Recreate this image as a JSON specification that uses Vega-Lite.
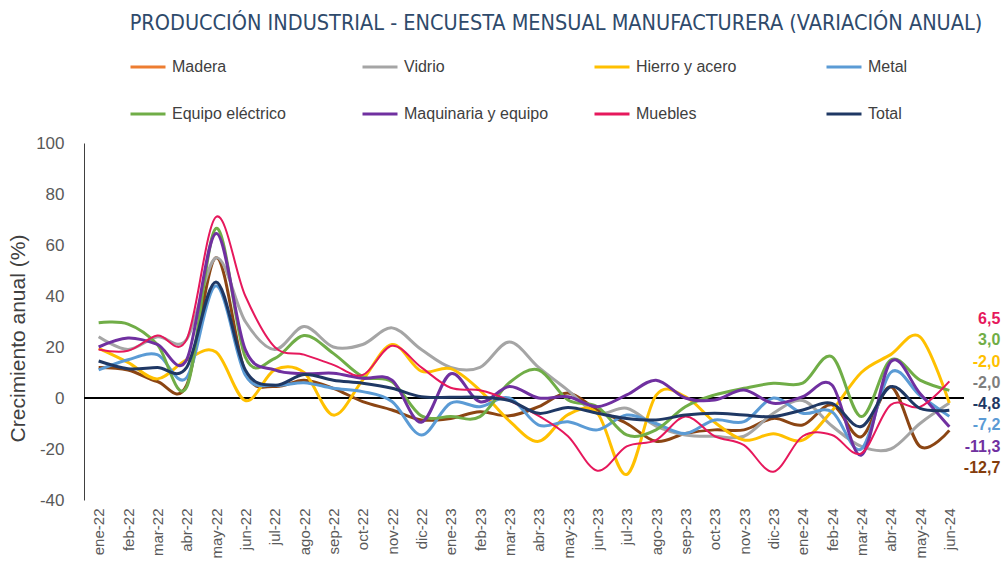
{
  "$schema": "https://vega.github.io/schema/vega-lite/v6.json",
  "autosize": {"type": "none"},
  "width": 880,
  "height": 357,
  "padding": {"left": 84, "top": 143, "right": 40, "bottom": 85},
  "config": {
    "locale": {"number": {"decimal": ",", "thousands": ".", "grouping": [3], "currency": ["", " €"], "minus": "-"}},
    "view": {"stroke": null},
    "font": "Liberation Sans"
  },
  "title": {
    "text": "PRODUCCIÓN INDUSTRIAL - ENCUESTA MENSUAL MANUFACTURERA (VARIACIÓN ANUAL)",
    "font": "Liberation Sans Narrow, DejaVu Sans Condensed, sans-serif",
    "fontSize": 21.5,
    "fontWeight": "normal",
    "color": "#2E4A6B",
    "anchor": "middle",
    "dx": 32,
    "offset": 14
  },
  "datasets": {
    "d": [
      {"mes":"ene-22","serie":"Madera","valor":12},{"mes":"feb-22","serie":"Madera","valor":11},{"mes":"mar-22","serie":"Madera","valor":6.5},{"mes":"abr-22","serie":"Madera","valor":5},{"mes":"may-22","serie":"Madera","valor":55},{"mes":"jun-22","serie":"Madera","valor":10},{"mes":"jul-22","serie":"Madera","valor":4.5},{"mes":"ago-22","serie":"Madera","valor":7},{"mes":"sep-22","serie":"Madera","valor":3.8},{"mes":"oct-22","serie":"Madera","valor":-1.4},{"mes":"nov-22","serie":"Madera","valor":-4.7},{"mes":"dic-22","serie":"Madera","valor":-8.6},{"mes":"ene-23","serie":"Madera","valor":-8},{"mes":"feb-23","serie":"Madera","valor":-5.4},{"mes":"mar-23","serie":"Madera","valor":-7},{"mes":"abr-23","serie":"Madera","valor":-3.4},{"mes":"may-23","serie":"Madera","valor":2},{"mes":"jun-23","serie":"Madera","valor":-4.7},{"mes":"jul-23","serie":"Madera","valor":-10},{"mes":"ago-23","serie":"Madera","valor":-17},{"mes":"sep-23","serie":"Madera","valor":-13.9},{"mes":"oct-23","serie":"Madera","valor":-12.5},{"mes":"nov-23","serie":"Madera","valor":-12.5},{"mes":"dic-23","serie":"Madera","valor":-8},{"mes":"ene-24","serie":"Madera","valor":-10.6},{"mes":"feb-24","serie":"Madera","valor":-2.7},{"mes":"mar-24","serie":"Madera","valor":-15.2},{"mes":"abr-24","serie":"Madera","valor":4.4},{"mes":"may-24","serie":"Madera","valor":-19},{"mes":"jun-24","serie":"Madera","valor":-12.7},
      {"mes":"ene-22","serie":"Vidrio","valor":24},{"mes":"feb-22","serie":"Vidrio","valor":19},{"mes":"mar-22","serie":"Vidrio","valor":24},{"mes":"abr-22","serie":"Vidrio","valor":23},{"mes":"may-22","serie":"Vidrio","valor":55},{"mes":"jun-22","serie":"Vidrio","valor":30},{"mes":"jul-22","serie":"Vidrio","valor":19},{"mes":"ago-22","serie":"Vidrio","valor":28},{"mes":"sep-22","serie":"Vidrio","valor":20},{"mes":"oct-22","serie":"Vidrio","valor":21},{"mes":"nov-22","serie":"Vidrio","valor":27.5},{"mes":"dic-22","serie":"Vidrio","valor":19},{"mes":"ene-23","serie":"Vidrio","valor":12},{"mes":"feb-23","serie":"Vidrio","valor":12},{"mes":"mar-23","serie":"Vidrio","valor":22},{"mes":"abr-23","serie":"Vidrio","valor":12},{"mes":"may-23","serie":"Vidrio","valor":3},{"mes":"jun-23","serie":"Vidrio","valor":-6},{"mes":"jul-23","serie":"Vidrio","valor":-4},{"mes":"ago-23","serie":"Vidrio","valor":-11},{"mes":"sep-23","serie":"Vidrio","valor":-14.5},{"mes":"oct-23","serie":"Vidrio","valor":-15},{"mes":"nov-23","serie":"Vidrio","valor":-15},{"mes":"dic-23","serie":"Vidrio","valor":-6},{"mes":"ene-24","serie":"Vidrio","valor":-1},{"mes":"feb-24","serie":"Vidrio","valor":-11},{"mes":"mar-24","serie":"Vidrio","valor":-19},{"mes":"abr-24","serie":"Vidrio","valor":-20},{"mes":"may-24","serie":"Vidrio","valor":-10},{"mes":"jun-24","serie":"Vidrio","valor":-2.0},
      {"mes":"ene-22","serie":"Hierro y acero","valor":19.5},{"mes":"feb-22","serie":"Hierro y acero","valor":14},{"mes":"mar-22","serie":"Hierro y acero","valor":7.5},{"mes":"abr-22","serie":"Hierro y acero","valor":15},{"mes":"may-22","serie":"Hierro y acero","valor":18},{"mes":"jun-22","serie":"Hierro y acero","valor":-1},{"mes":"jul-22","serie":"Hierro y acero","valor":11},{"mes":"ago-22","serie":"Hierro y acero","valor":10},{"mes":"sep-22","serie":"Hierro y acero","valor":-6.7},{"mes":"oct-22","serie":"Hierro y acero","valor":7},{"mes":"nov-22","serie":"Hierro y acero","valor":21},{"mes":"dic-22","serie":"Hierro y acero","valor":10.5},{"mes":"ene-23","serie":"Hierro y acero","valor":11.5},{"mes":"feb-23","serie":"Hierro y acero","valor":3},{"mes":"mar-23","serie":"Hierro y acero","valor":-9},{"mes":"abr-23","serie":"Hierro y acero","valor":-17},{"mes":"may-23","serie":"Hierro y acero","valor":-6.5},{"mes":"jun-23","serie":"Hierro y acero","valor":-6},{"mes":"jul-23","serie":"Hierro y acero","valor":-30},{"mes":"ago-23","serie":"Hierro y acero","valor":1},{"mes":"sep-23","serie":"Hierro y acero","valor":0.5},{"mes":"oct-23","serie":"Hierro y acero","valor":-9.5},{"mes":"nov-23","serie":"Hierro y acero","valor":-16.5},{"mes":"dic-23","serie":"Hierro y acero","valor":-14},{"mes":"ene-24","serie":"Hierro y acero","valor":-16.5},{"mes":"feb-24","serie":"Hierro y acero","valor":-5},{"mes":"mar-24","serie":"Hierro y acero","valor":10},{"mes":"abr-24","serie":"Hierro y acero","valor":17},{"mes":"may-24","serie":"Hierro y acero","valor":24},{"mes":"jun-24","serie":"Hierro y acero","valor":-2.0},
      {"mes":"ene-22","serie":"Metal","valor":11},{"mes":"feb-22","serie":"Metal","valor":15},{"mes":"mar-22","serie":"Metal","valor":17},{"mes":"abr-22","serie":"Metal","valor":8},{"mes":"may-22","serie":"Metal","valor":44},{"mes":"jun-22","serie":"Metal","valor":9},{"mes":"jul-22","serie":"Metal","valor":5},{"mes":"ago-22","serie":"Metal","valor":6},{"mes":"sep-22","serie":"Metal","valor":3.8},{"mes":"oct-22","serie":"Metal","valor":2.5},{"mes":"nov-22","serie":"Metal","valor":-1.4},{"mes":"dic-22","serie":"Metal","valor":-14.5},{"mes":"ene-23","serie":"Metal","valor":-2},{"mes":"feb-23","serie":"Metal","valor":-3.4},{"mes":"mar-23","serie":"Metal","valor":0},{"mes":"abr-23","serie":"Metal","valor":-10.6},{"mes":"may-23","serie":"Metal","valor":-9.3},{"mes":"jun-23","serie":"Metal","valor":-12.5},{"mes":"jul-23","serie":"Metal","valor":-6.7},{"mes":"ago-23","serie":"Metal","valor":-10},{"mes":"sep-23","serie":"Metal","valor":-13.9},{"mes":"oct-23","serie":"Metal","valor":-8.6},{"mes":"nov-23","serie":"Metal","valor":-9.3},{"mes":"dic-23","serie":"Metal","valor":0},{"mes":"ene-24","serie":"Metal","valor":-6},{"mes":"feb-24","serie":"Metal","valor":-5.4},{"mes":"mar-24","serie":"Metal","valor":-20},{"mes":"abr-24","serie":"Metal","valor":10},{"mes":"may-24","serie":"Metal","valor":1},{"mes":"jun-24","serie":"Metal","valor":-7.2},
      {"mes":"ene-22","serie":"Equipo eléctrico","valor":29.5},{"mes":"feb-22","serie":"Equipo eléctrico","valor":29},{"mes":"mar-22","serie":"Equipo eléctrico","valor":21},{"mes":"abr-22","serie":"Equipo eléctrico","valor":4.3},{"mes":"may-22","serie":"Equipo eléctrico","valor":66.5},{"mes":"jun-22","serie":"Equipo eléctrico","valor":16},{"mes":"jul-22","serie":"Equipo eléctrico","valor":15.5},{"mes":"ago-22","serie":"Equipo eléctrico","valor":24.5},{"mes":"sep-22","serie":"Equipo eléctrico","valor":17.5},{"mes":"oct-22","serie":"Equipo eléctrico","valor":8.4},{"mes":"nov-22","serie":"Equipo eléctrico","valor":6.4},{"mes":"dic-22","serie":"Equipo eléctrico","valor":-7},{"mes":"ene-23","serie":"Equipo eléctrico","valor":-7.3},{"mes":"feb-23","serie":"Equipo eléctrico","valor":-7.3},{"mes":"mar-23","serie":"Equipo eléctrico","valor":6},{"mes":"abr-23","serie":"Equipo eléctrico","valor":11},{"mes":"may-23","serie":"Equipo eléctrico","valor":-0.8},{"mes":"jun-23","serie":"Equipo eléctrico","valor":-3.4},{"mes":"jul-23","serie":"Equipo eléctrico","valor":-14.5},{"mes":"ago-23","serie":"Equipo eléctrico","valor":-12.5},{"mes":"sep-23","serie":"Equipo eléctrico","valor":-3.4},{"mes":"oct-23","serie":"Equipo eléctrico","valor":1.2},{"mes":"nov-23","serie":"Equipo eléctrico","valor":3.8},{"mes":"dic-23","serie":"Equipo eléctrico","valor":5.8},{"mes":"ene-24","serie":"Equipo eléctrico","valor":5.8},{"mes":"feb-24","serie":"Equipo eléctrico","valor":16.2},{"mes":"mar-24","serie":"Equipo eléctrico","valor":-7.3},{"mes":"abr-24","serie":"Equipo eléctrico","valor":14.9},{"mes":"may-24","serie":"Equipo eléctrico","valor":7},{"mes":"jun-24","serie":"Equipo eléctrico","valor":3.0},
      {"mes":"ene-22","serie":"Maquinaria y equipo","valor":20},{"mes":"feb-22","serie":"Maquinaria y equipo","valor":23.5},{"mes":"mar-22","serie":"Maquinaria y equipo","valor":21},{"mes":"abr-22","serie":"Maquinaria y equipo","valor":15},{"mes":"may-22","serie":"Maquinaria y equipo","valor":64.5},{"mes":"jun-22","serie":"Maquinaria y equipo","valor":19},{"mes":"jul-22","serie":"Maquinaria y equipo","valor":11},{"mes":"ago-22","serie":"Maquinaria y equipo","valor":9.5},{"mes":"sep-22","serie":"Maquinaria y equipo","valor":9.7},{"mes":"oct-22","serie":"Maquinaria y equipo","valor":7.7},{"mes":"nov-22","serie":"Maquinaria y equipo","valor":7},{"mes":"dic-22","serie":"Maquinaria y equipo","valor":-9.5},{"mes":"ene-23","serie":"Maquinaria y equipo","valor":9.5},{"mes":"feb-23","serie":"Maquinaria y equipo","valor":-1.5},{"mes":"mar-23","serie":"Maquinaria y equipo","valor":4.5},{"mes":"abr-23","serie":"Maquinaria y equipo","valor":0},{"mes":"may-23","serie":"Maquinaria y equipo","valor":0.5},{"mes":"jun-23","serie":"Maquinaria y equipo","valor":-3.4},{"mes":"jul-23","serie":"Maquinaria y equipo","valor":1.2},{"mes":"ago-23","serie":"Maquinaria y equipo","valor":7},{"mes":"sep-23","serie":"Maquinaria y equipo","valor":0},{"mes":"oct-23","serie":"Maquinaria y equipo","valor":-0.8},{"mes":"nov-23","serie":"Maquinaria y equipo","valor":3.1},{"mes":"dic-23","serie":"Maquinaria y equipo","valor":-2.1},{"mes":"ene-24","serie":"Maquinaria y equipo","valor":0.5},{"mes":"feb-24","serie":"Maquinaria y equipo","valor":5.1},{"mes":"mar-24","serie":"Maquinaria y equipo","valor":-22.4},{"mes":"abr-24","serie":"Maquinaria y equipo","valor":14.2},{"mes":"may-24","serie":"Maquinaria y equipo","valor":1.8},{"mes":"jun-24","serie":"Maquinaria y equipo","valor":-11.3},
      {"mes":"ene-22","serie":"Muebles","valor":19},{"mes":"feb-22","serie":"Muebles","valor":18.5},{"mes":"mar-22","serie":"Muebles","valor":24.5},{"mes":"abr-22","serie":"Muebles","valor":23},{"mes":"may-22","serie":"Muebles","valor":71},{"mes":"jun-22","serie":"Muebles","valor":40},{"mes":"jul-22","serie":"Muebles","valor":20},{"mes":"ago-22","serie":"Muebles","valor":17},{"mes":"sep-22","serie":"Muebles","valor":13},{"mes":"oct-22","serie":"Muebles","valor":9},{"mes":"nov-22","serie":"Muebles","valor":20.5},{"mes":"dic-22","serie":"Muebles","valor":12},{"mes":"ene-23","serie":"Muebles","valor":4},{"mes":"feb-23","serie":"Muebles","valor":3},{"mes":"mar-23","serie":"Muebles","valor":-1},{"mes":"abr-23","serie":"Muebles","valor":-7},{"mes":"may-23","serie":"Muebles","valor":-15},{"mes":"jun-23","serie":"Muebles","valor":-28.5},{"mes":"jul-23","serie":"Muebles","valor":-19},{"mes":"ago-23","serie":"Muebles","valor":-16.5},{"mes":"sep-23","serie":"Muebles","valor":-7.3},{"mes":"oct-23","serie":"Muebles","valor":-15},{"mes":"nov-23","serie":"Muebles","valor":-18.5},{"mes":"dic-23","serie":"Muebles","valor":-28.9},{"mes":"ene-24","serie":"Muebles","valor":-15},{"mes":"feb-24","serie":"Muebles","valor":-14.5},{"mes":"mar-24","serie":"Muebles","valor":-21.7},{"mes":"abr-24","serie":"Muebles","valor":-2.7},{"mes":"may-24","serie":"Muebles","valor":-3.5},{"mes":"jun-24","serie":"Muebles","valor":6.5},
      {"mes":"ene-22","serie":"Total","valor":14.5},{"mes":"feb-22","serie":"Total","valor":11.5},{"mes":"mar-22","serie":"Total","valor":12},{"mes":"abr-22","serie":"Total","valor":12},{"mes":"may-22","serie":"Total","valor":45.5},{"mes":"jun-22","serie":"Total","valor":11},{"mes":"jul-22","serie":"Total","valor":5},{"mes":"ago-22","serie":"Total","valor":9.2},{"mes":"sep-22","serie":"Total","valor":7},{"mes":"oct-22","serie":"Total","valor":5.8},{"mes":"nov-22","serie":"Total","valor":3.8},{"mes":"dic-22","serie":"Total","valor":0.5},{"mes":"ene-23","serie":"Total","valor":0.3},{"mes":"feb-23","serie":"Total","valor":0.3},{"mes":"mar-23","serie":"Total","valor":-1},{"mes":"abr-23","serie":"Total","valor":-6},{"mes":"may-23","serie":"Total","valor":-3.7},{"mes":"jun-23","serie":"Total","valor":-6},{"mes":"jul-23","serie":"Total","valor":-8},{"mes":"ago-23","serie":"Total","valor":-8.6},{"mes":"sep-23","serie":"Total","valor":-6.7},{"mes":"oct-23","serie":"Total","valor":-6},{"mes":"nov-23","serie":"Total","valor":-6.7},{"mes":"dic-23","serie":"Total","valor":-7.3},{"mes":"ene-24","serie":"Total","valor":-4.7},{"mes":"feb-24","serie":"Total","valor":-2.1},{"mes":"mar-24","serie":"Total","valor":-11.2},{"mes":"abr-24","serie":"Total","valor":4.4},{"mes":"may-24","serie":"Total","valor":-4.1},{"mes":"jun-24","serie":"Total","valor":-4.8}
    ]
  },
  "data": {"name": "d"},
  "layer": [
    {
      "layer": [
        {
          "mark": {"type": "rule", "color": "#000000", "strokeWidth": 1},
          "encoding": {"y": {"datum": 0, "type": "quantitative"}}
        },
        {
          "mark": {"type": "line", "interpolate": "cardinal", "tension": 0},
          "encoding": {
            "x": {
              "field": "mes", "type": "ordinal", "sort": null,
              "scale": {"type": "point", "padding": 0.5},
              "axis": {"title": null, "labelAngle": -90, "labelFontSize": 15, "labelColor": "#595959", "ticks": false, "domain": false, "labelPadding": 8}
            },
            "y": {
              "field": "valor", "type": "quantitative",
              "scale": {"domain": [-40, 100], "nice": false},
              "axis": {"values": [-40, -20, 0, 20, 40, 60, 80, 100], "grid": false, "ticks": false, "tickSize": 0, "domain": true, "domainColor": "#404040", "labelFontSize": 17, "labelColor": "#595959", "labelPadding": 20, "title": "Crecimiento anual (%)", "titleFontSize": 21, "titleColor": "#404040", "titleFontWeight": "normal", "titleX": -66, "titleY": 195, "titleAlign": "center", "titleBaseline": "middle", "titleAngle": 270}
            },
            "color": {
              "condition": {"test": "datum.serie === 'Madera'", "value": "#8B4513"},
              "field": "serie", "type": "nominal",
              "scale": {
                "domain": ["Madera", "Vidrio", "Hierro y acero", "Metal", "Equipo eléctrico", "Maquinaria y equipo", "Muebles", "Total"],
                "range": ["#ED7D31", "#A5A5A5", "#FFC000", "#5B9BD5", "#70AD47", "#7030A0", "#E6185C", "#1F3864"]
              },
              "legend": {
                "title": null, "orient": "none", "legendX": 45, "legendY": -95, "direction": "horizontal", "columns": 4,
                "symbolType": "stroke", "symbolStrokeWidth": 3, "symbolSize": 1225, "labelFontSize": 16, "labelColor": "#404040",
                "labelOffset": 5, "columnPadding": 39, "rowPadding": 20, "gridAlign": "all", "padding": 0
              }
            },
            "strokeWidth": {"condition": {"test": "datum.serie === 'Muebles'", "value": 2}, "value": 3}
          }
        }
      ]
    },
    {
      "transform": [{"filter": "datum.mes === 'jun-24'"}],
      "mark": {"type": "text", "align": "right", "baseline": "middle", "dx": 51, "fontWeight": "bold", "fontSize": 16},
      "encoding": {
        "x": {"field": "mes", "type": "ordinal", "sort": null},
        "y": {
          "field": "serie", "type": "nominal",
          "scale": {"type": "point", "domain": ["Muebles", "Equipo eléctrico", "Hierro y acero", "Vidrio", "Total", "Metal", "Maquinaria y equipo", "Madera"], "range": [176, 325], "padding": 0},
          "axis": null
        },
        "text": {"field": "valor", "type": "quantitative", "format": ".1f"},
        "color": {
          "condition": [{"test": "datum.serie === 'Madera'", "value": "#843C0C"}, {"test": "datum.serie === 'Vidrio'", "value": "#7F7F7F"}],
          "field": "serie", "type": "nominal"
        }
      }
    }
  ],
  "resolve": {"scale": {"y": "independent"}}
}
